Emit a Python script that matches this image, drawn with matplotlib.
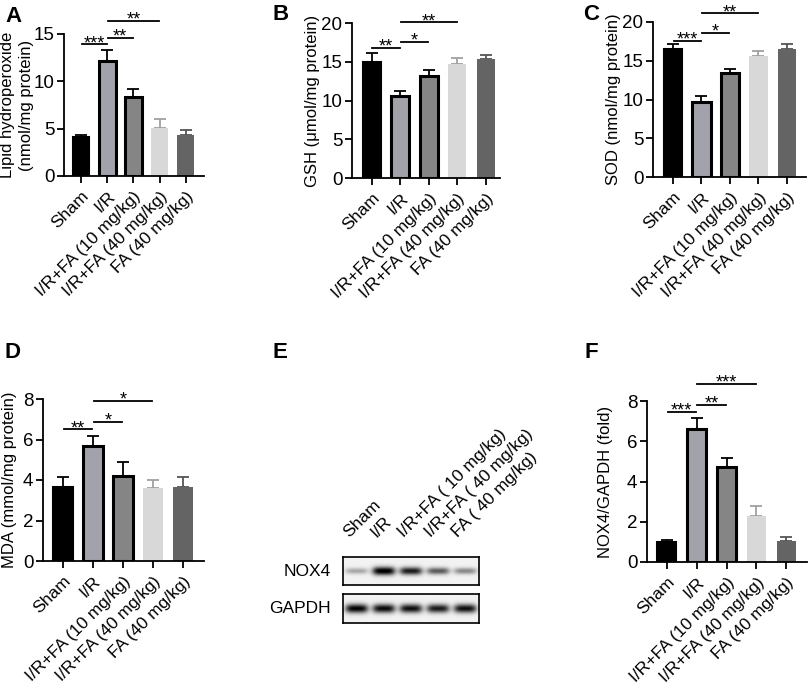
import numpy as np
import matplotlib
matplotlib.use("Agg")
import matplotlib.pyplot as plt

plt.rcParams['font.family'] = ['Liberation Sans', 'DejaVu Sans']
plt.rcParams['axes.linewidth'] = 1.3

groups = ["Sham", "I/R", "I/R+FA (10 mg/kg)", "I/R+FA (40 mg/kg)", "FA (40 mg/kg)"]
blot_lanes = ["Sham", "I/R", "I/R+FA ( 10 mg/kg)", "I/R+FA ( 40 mg/kg)", "FA ( 40 mg/kg)"]

lipid_mean = [4.15, 12.2, 8.3, 5.1, 4.3]
lipid_err = [0.2, 1.1, 0.9, 0.9, 0.6]
gsh_mean = [15.0, 10.6, 13.1, 14.75, 15.3]
gsh_err = [1.1, 0.6, 0.9, 0.75, 0.6]
sod_mean = [16.5, 9.7, 13.4, 15.6, 16.5]
sod_err = [0.65, 0.75, 0.6, 0.6, 0.6]
mda_mean = [3.63, 5.7, 4.18, 3.6, 3.63]
mda_err = [0.5, 0.46, 0.72, 0.4, 0.5]
nox_mean = [1.0, 6.6, 4.7, 2.3, 1.03]
nox_err = [0.08, 0.55, 0.45, 0.5, 0.2]

# significance brackets: (i, j, y, label)
lipid_sig = [(0, 1, 13.9, "***"), (1, 2, 14.6, "**"), (1, 3, 16.4, "**")]
gsh_sig = [(0, 1, 16.8, "**"), (1, 2, 17.6, "*"), (1, 3, 20.1, "**")]
sod_sig = [(0, 1, 17.6, "***"), (1, 2, 18.6, "*"), (1, 3, 21.1, "**")]
mda_sig = [(0, 1, 6.5, "**"), (1, 2, 6.87, "*"), (1, 3, 7.9, "*")]
nox_sig = [(0, 1, 7.45, "***"), (1, 2, 7.8, "**"), (1, 3, 8.85, "***")]

# western blot band intensity (relative)
nox4_band = [0.3, 1.0, 0.85, 0.6, 0.42]
gapdh_band = [0.95, 0.92, 0.9, 0.85, 0.9]

fills = ["#000000", "#a2a2aa", "#858585", "#d8d8d8", "#646464"]
edges = ["#000000", "#000000", "#000000", "#d8d8d8", "#646464"]
errc = ["#000000", "#000000", "#000000", "#a0a0a0", "#555555"]
edge_w = [1.5, 2.2, 2.2, 0, 0]

W, H = 809, 689
fig = plt.figure(figsize=(W / 100, H / 100), dpi=100)


def px_axes(l, r, t, b):
    return fig.add_axes([l / W, 1 - b / H, (r - l) / W, (b - t) / H])


def bar_panel(ax, means, errs, sig, ymax, ystep, ylabel, xlim, labx):
    x = np.arange(len(groups))
    for i in range(len(groups)):
        ax.bar(x[i], means[i], width=0.64, color=fills[i], edgecolor=edges[i],
               linewidth=edge_w[i], zorder=2)
        ax.errorbar(x[i], means[i], yerr=[[0], [errs[i]]], color=errc[i],
                    capsize=4, elinewidth=1.3, capthick=1.3, zorder=1)
    for i, j, y, lab in sig:
        ax.plot([x[i] + 0.02, x[j] - 0.02], [y, y], color="black", lw=1.3, clip_on=False)
        ax.annotate(lab, ((x[i] + x[j]) / 2, y), xytext=(0, -2.8), textcoords="offset points",
                    ha="center", va="baseline", fontsize=13, annotation_clip=False)
    ax.set_ylim(0, ymax)
    ax.set_xlim(*xlim)
    ax.set_yticks(np.arange(0, ymax + 0.01, ystep))
    ax.set_xticks(x)
    ax.set_xticklabels(groups, rotation=45, ha="right", rotation_mode="anchor")
    ax.tick_params(axis="both", length=5, width=1.3, direction="out")
    ax.tick_params(axis="x", labelsize=12.5, pad=4)
    ax.tick_params(axis="y", labelsize=13.5, pad=2)
    ax.spines["top"].set_visible(False)
    ax.spines["right"].set_visible(False)
    ax.set_ylabel(ylabel, fontsize=12, linespacing=1.3)
    ax.yaxis.set_label_coords(labx, 0.5)


axA = px_axes(64, 204, 34, 176)
bar_panel(axA, lipid_mean, lipid_err, lipid_sig, 15, 5,
          "Lipid hydroperoxide\n(nmol/mg protein)", (-0.65, 4.7), -0.215)
axB = px_axes(352, 500, 23, 178)
bar_panel(axB, gsh_mean, gsh_err, gsh_sig, 20, 5, "GSH (μmol/mg protein)", (-0.7, 4.5), -0.215)
axC = px_axes(653, 806, 22, 177)
bar_panel(axC, sod_mean, sod_err, sod_sig, 20, 5, "SOD (nmol/mg protein)", (-0.7, 4.67), -0.21)
axD = px_axes(43, 204, 399, 561)
bar_panel(axD, mda_mean, mda_err, mda_sig, 8, 2, "MDA (mmol/mg protein)", (-0.67, 4.7), -0.16)
axF = px_axes(647, 807, 401, 562)
bar_panel(axF, nox_mean, nox_err, nox_sig, 8, 2, "NOX4/GAPDH (fold)", (-0.67, 4.7), -0.215)


# panel E: western blot strips
def blot(ax, levels, thick):
    nx, ny = 300, 60
    xs = np.linspace(0, len(levels), nx)
    ys = np.linspace(-1, 1, ny)
    img = np.zeros((ny, nx)) + 0.05
    for k, lev in enumerate(levels):
        dx = (xs - (k + 0.5)) / 0.42
        prof_x = np.exp(-np.abs(dx) ** 4)
        prof_y = np.exp(-(ys / (thick * (0.6 + 0.4 * lev))) ** 2)
        img += lev * np.outer(prof_y, prof_x)
    ax.imshow(np.clip(img, 0, 1), cmap="gray_r", vmin=0, vmax=1.0, aspect="auto",
              extent=(0, len(levels), -1, 1), interpolation="bilinear")
    ax.set_xticks([])
    ax.set_yticks([])
    for s in ax.spines.values():
        s.set_linewidth(1.2)


axE1 = px_axes(343, 479, 557, 585)
blot(axE1, nox4_band, 0.3)
axE2 = px_axes(343, 479, 594, 623)
blot(axE2, gapdh_band, 0.32)
axE1.text(-0.09, 0.5, "NOX4", transform=axE1.transAxes, ha="right", va="center", fontsize=12.5)
axE2.text(-0.09, 0.5, "GAPDH", transform=axE2.transAxes, ha="right", va="center", fontsize=12.5)
for k, g in enumerate(blot_lanes):
    axE1.text(k + 0.3, 2.2, g, ha="left", va="bottom", rotation=45,
              rotation_mode="anchor", fontsize=12.5, transform=axE1.transData, clip_on=False)

# panel letters
for lab, (xp, yp) in {"A": (5, 16), "B": (273, 15), "C": (583, 15), "D": (5, 353),
                      "E": (273, 353), "F": (585, 353)}.items():
    fig.text(xp / W, 1 - yp / H, lab, fontsize=16, fontweight="bold", ha="left", va="center")

fig.savefig("out.png", dpi=100)
